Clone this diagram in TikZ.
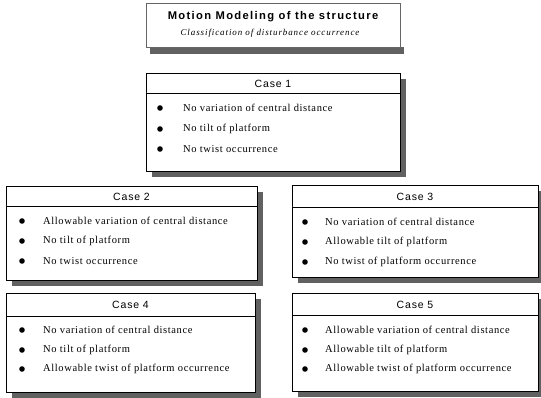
\documentclass[tikz,border=0pt]{standalone}
\usepackage{fontspec}
\setmainfont{Liberation Serif}
\newfontfamily\itemfont[LetterSpace=6]{Liberation Serif}
\newfontfamily\headfont[LetterSpace=8]{Liberation Sans}
\newfontfamily\titlefont[LetterSpace=12]{Liberation Sans}
\newfontfamily\subfont[LetterSpace=10]{Liberation Serif}
\newcommand\panelbox[8]{%
  \fill[shadowfill] (#2+6,#3+6) rectangle (#4+6,#5+6);
  \draw[boxline] (#2,#3) rectangle (#4,#5);
  \draw[boxline] (#2,#6) -- (#4,#6);
  \node[headtext] (#1) at ({(#2+#4)/2},#7) {#8};
}
\newcommand\bitem[5]{%
  \node[bul] (#1b) at (#2,#4) {};
  \node[itemtext] (#1) at (#3,#4) {#5};
}
\begin{document}
\begin{tikzpicture}[x=1pt,y=-1pt,
  boxline/.style={draw=black, line width=0.9pt, fill=white},
  shadowfill/.style={fill=black!62},
  itemtext/.style={anchor=west, inner sep=0pt, font=\itemfont\fontsize{10.5}{12}\selectfont},
  headtext/.style={inner sep=0pt, font=\headfont\fontsize{10.5}{12}\selectfont},
  bul/.style={circle, fill=black, inner sep=0pt, minimum size=5.6pt}]
\useasboundingbox (0,0) rectangle (541,398);
\fill[white] (0,0) rectangle (541,398);

% title
\fill[shadowfill] (150,47) rectangle (404,54);
\draw[draw=black!60, line width=0.5pt, fill=white] (146,3) rectangle (400,47);
\node[inner sep=0pt, font=\titlefont\bfseries\fontsize{11.2}{13}\selectfont] (title) at (273,17) {Motion Modeling of the structure};
\node[inner sep=0pt, font=\subfont\itshape\fontsize{9}{11}\selectfont] (subtitle) at (270,33) {Classification of disturbance occurrence};

% Case 1
\panelbox{c1}{146}{73}{400}{171}{93}{84}{Case 1}
\bitem{c1a}{160}{183}{108}{No variation of central distance}
\bitem{c1b}{160}{183}{129}{No tilt of platform}
\bitem{c1c}{160}{183}{149}{No twist occurrence}

% Case 2
\panelbox{c2}{6}{186}{257}{280}{206}{197}{Case 2}
\bitem{c2a}{22}{43}{221}{Allowable variation of central distance}
\bitem{c2b}{22}{43}{241}{No tilt of platform}
\bitem{c2c}{22}{43}{261}{No twist occurrence}

% Case 3
\panelbox{c3}{292}{185}{538}{277}{207}{197}{Case 3}
\bitem{c3a}{305}{325}{222}{No variation of central distance}
\bitem{c3b}{305}{325}{242}{Allowable tilt of platform}
\bitem{c3c}{305}{325}{262}{No twist of platform occurrence}

% Case 4
\panelbox{c4}{6}{293}{255}{392}{316}{305}{Case 4}
\bitem{c4a}{22}{43}{330}{No variation of central distance}
\bitem{c4b}{22}{43}{350}{No tilt of platform}
\bitem{c4c}{22}{43}{369}{Allowable twist of platform occurrence}

% Case 5
\panelbox{c5}{292}{293}{538}{391}{315}{305}{Case 5}
\bitem{c5a}{305}{325}{330}{Allowable variation of central distance}
\bitem{c5b}{305}{325}{350}{Allowable tilt of platform}
\bitem{c5c}{305}{325}{369}{Allowable twist of platform occurrence}
\end{tikzpicture}
\end{document}
